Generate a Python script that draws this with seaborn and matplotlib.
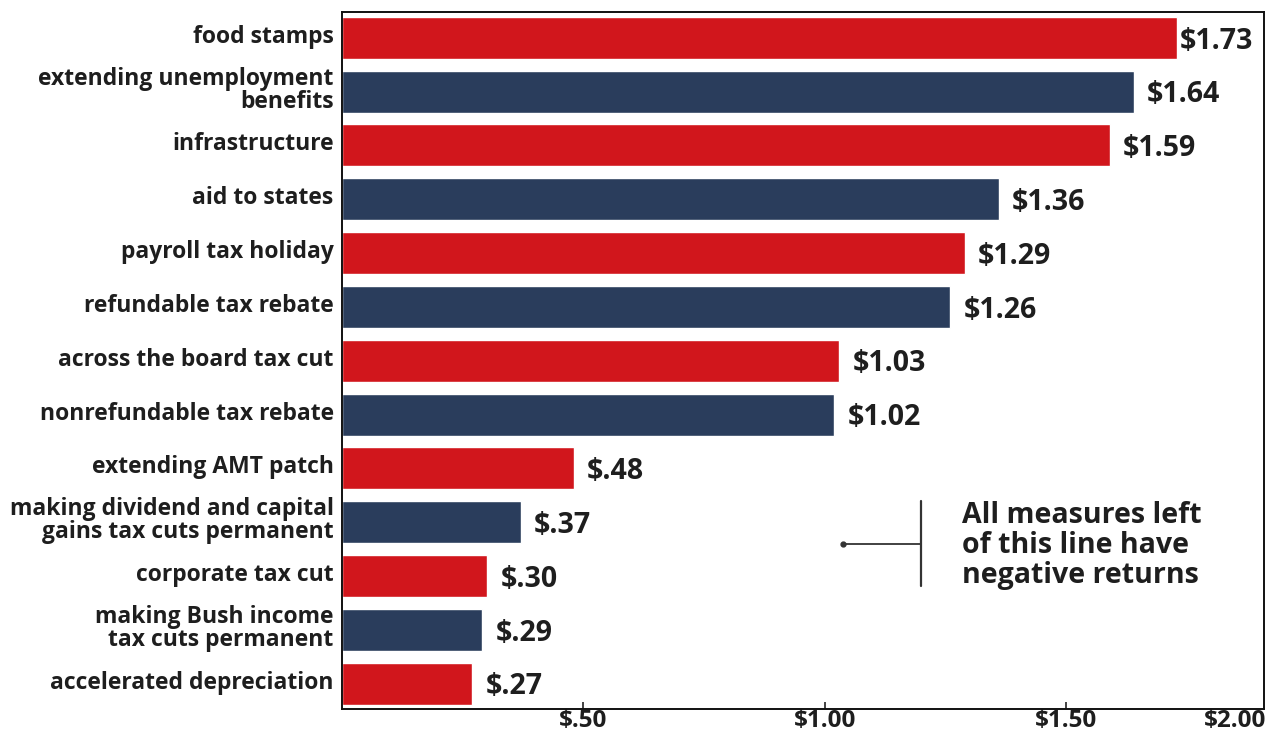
import matplotlib
matplotlib.use("Agg")
import matplotlib.pyplot as plt
import matplotlib.transforms as mtransforms
import seaborn as sns
import pandas as pd

categories = [
    "food stamps",
    "extending unemployment\nbenefits",
    "infrastructure",
    "aid to states",
    "payroll tax holiday",
    "refundable tax rebate",
    "across the board tax cut",
    "nonrefundable tax rebate",
    "extending AMT patch",
    "making dividend and capital\ngains tax cuts permanent",
    "corporate tax cut",
    "making Bush income\ntax cuts permanent",
    "accelerated depreciation",
]
values = [1.73, 1.64, 1.59, 1.36, 1.29, 1.26, 1.03, 1.02, 0.48, 0.37, 0.30, 0.29, 0.27]
value_labels = ["$1.73", "$1.64", "$1.59", "$1.36", "$1.29", "$1.26", "$1.03",
                "$1.02", "$.48", "$.37", "$.30", "$.29", "$.27"]
groups = ["a", "b"] * 6 + ["a"]
tick_values = [0.5, 1.0, 1.5, 1.85]
tick_labels = ["$.50", "$1.00", "$1.50", "$2.00"]
note_text = "All measures left\nof this line have\nnegative returns"

RED = "#d1161c"
NAVY = "#2a3d5c"
XMAX = 1.91

sns.set_theme(style="white")
plt.rcParams["font.family"] = ["Open Sans", "DejaVu Sans"]

df = pd.DataFrame({"category": categories, "value": values, "group": groups})

fig = plt.figure(figsize=(12.77, 7.38), dpi=100)
ax = fig.add_axes([342 / 1277, 1 - 709 / 738, (1264 - 342) / 1277, (709 - 12) / 738])

sns.barplot(data=df, x="value", y="category", hue="group",
            palette={"a": RED, "b": NAVY}, dodge=False, width=0.78,
            legend=False, ax=ax, saturation=1)

ax.set_xlim(0, XMAX)
ax.set_ylim(12.47, -0.48)

for i, (v, lab) in enumerate(zip(values, value_labels)):
    off = 0.028 if v + 0.028 + 0.17 < XMAX else 0.006
    ax.text(v + off, i + 0.06, lab, va="center", ha="left", fontsize=20.5,
            fontweight="bold", color="#1e1e1e")

ax.set_xticks(tick_values)
ax.set_xticklabels(tick_labels, fontsize=17.5, fontweight="bold", color="#1e1e1e")
ax.tick_params(axis="x", direction="in", length=5, width=1.2, color="#222222", pad=0, bottom=True)
ax.xaxis.get_major_ticks()[-1].tick1line.set_visible(False)
ax.tick_params(axis="y", length=0, pad=6)
shift_up = mtransforms.ScaledTranslation(0, 4 / 100, fig.dpi_scale_trans)
for lab in ax.get_yticklabels():
    lab.set_fontsize(16.5)
    lab.set_fontweight("bold")
    lab.set_color("#1e1e1e")
    lab.set_multialignment("right")
    lab.set_linespacing(0.95)
    lab.set_transform(lab.get_transform() + shift_up)
ax.set_xlabel("")
ax.set_ylabel("")

for sp in ax.spines.values():
    sp.set_visible(True)
    sp.set_color("#111111")
    sp.set_linewidth(1.4)

# annotation line
ax.plot([1.20, 1.20], [8.61, 10.19], color="#333333", lw=1.6)
ax.plot([1.037, 1.20], [9.41, 9.41], color="#333333", lw=1.3)
ax.plot([1.037], [9.41], marker="o", ms=3.5, color="#333333")
ax.text(1.285, 9.43, note_text, va="center", ha="left", fontsize=20.5,
        fontweight="bold", color="#1e1e1e", linespacing=1.05)

fig.savefig("out.png", dpi=100)
